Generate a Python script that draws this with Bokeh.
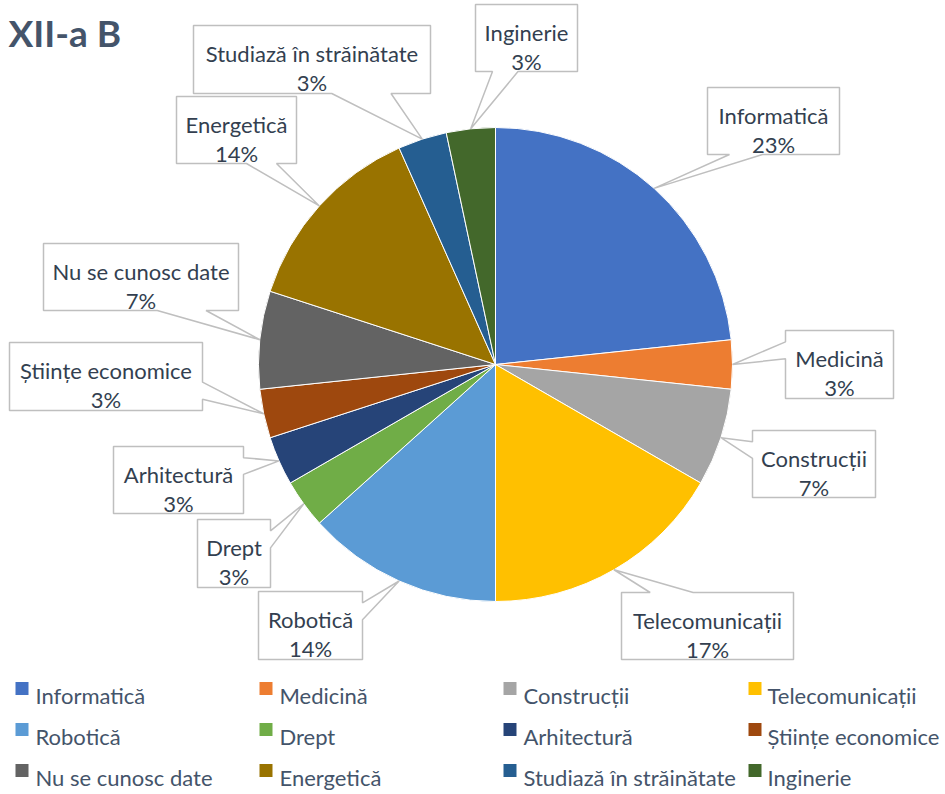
import math
from bokeh.plotting import figure
from bokeh.models import ColumnDataSource, Range1d
from bokeh.core.properties import value
from bokeh.embed import file_html
from bokeh.resources import INLINE

# ---------------- data ----------------
chart_title = "XII-a B"
categories = ["Informatică", "Medicină", "Construcții", "Telecomunicații",
              "Robotică", "Drept", "Arhitectură", "Științe economice",
              "Nu se cunosc date", "Energetică", "Studiază în străinătate", "Inginerie"]
counts = [7, 1, 2, 5, 4, 1, 1, 1, 2, 4, 1, 1]
pct_labels = ["23%", "3%", "7%", "17%", "14%", "3%", "3%", "3%", "7%", "14%", "3%", "3%"]

# ---------------- styles / layout ----------------
palette = ["#4472C4", "#ED7D31", "#A5A5A5", "#FFC000", "#5B9BD5", "#70AD47",
           "#264478", "#9E480E", "#636363", "#997300", "#255E91", "#43682B"]
FONT = "Lato"
LABEL_COLOR = "#333F50"
LEGEND_COLOR = "#44546A"
BOX_LINE = "#BFBFBF"

W, H = 945, 794
CX, CY, R = 495, 364, 237          # pie centre / radius (px, y down)

# callout boxes (left, top, right, bottom) in px
label_boxes = [
    (707, 87, 839, 154),    # Informatică
    (785, 330, 893, 398),   # Medicină
    (752, 430, 875, 497),   # Construcții
    (621, 592, 793, 659),   # Telecomunicații
    (258, 591, 362, 659),   # Robotică
    (197, 519, 270, 587),   # Drept
    (113, 446, 243, 513),   # Arhitectură
    (9, 342, 202, 410),     # Științe economice
    (43, 243, 238, 310),    # Nu se cunosc date
    (176, 96, 296, 163),    # Energetică
    (193, 25, 430, 93),     # Studiază în străinătate
    (475, 4, 577, 71),      # Inginerie
]

legend_sq_x = [21.5, 265.5, 509.5, 754.5]
legend_tx_x = [35, 279, 523, 767]
legend_rows = [695, 736, 777]

p = figure(width=W, height=H, output_backend="svg", toolbar_location=None,
           x_range=Range1d(0, W), y_range=Range1d(-H, 0),
           min_border=0, x_axis_location=None, y_axis_location=None)
p.grid.visible = False
p.outline_line_color = None
p.background_fill_color = "white"
p.border_fill_color = "white"

# ---------------- pie ----------------
total = float(sum(counts))
starts, ends, mids = [], [], []
cum = 0.0
for c in counts:
    a0 = cum / total * 2 * math.pi
    cum += c
    a1 = cum / total * 2 * math.pi
    starts.append(math.pi / 2 - a0)
    ends.append(math.pi / 2 - a1)
    mids.append((a0 + a1) / 2)

src = ColumnDataSource(dict(x=[CX] * len(counts), y=[-CY] * len(counts),
                            start=starts, end=ends, color=palette, cat=categories))
p.wedge(x="x", y="y", radius=R, start_angle="start", end_angle="end",
        direction="clock", fill_color="color", line_color="white",
        line_width=1, source=src)

# ---------------- callouts ----------------
def callout_path(box, tip):
    l, t, r, b = box
    w, h = r - l, b - t
    hc, vc = (l + r) / 2, (t + b) / 2
    tx, ty = tip
    dx, dy = tx - hc, ty - vc
    dq = dx * h / w
    dz = abs(dy) - abs(dq)
    if dz > 0:
        fx = (7 / 12, 10 / 12) if dx > 0 else (2 / 12, 5 / 12)
        x1, x2 = l + w * fx[0], l + w * fx[1]
        if dy < 0:  # top
            pts = [(l, t), (x1, t), (tx, ty), (x2, t), (r, t), (r, b), (l, b)]
        else:       # bottom
            pts = [(l, t), (r, t), (r, b), (x2, b), (tx, ty), (x1, b), (l, b)]
    else:
        fy = (7 / 12, 10 / 12) if dy > 0 else (2 / 12, 5 / 12)
        y1, y2 = t + h * fy[0], t + h * fy[1]
        if dx > 0:  # right
            pts = [(l, t), (r, t), (r, y1), (tx, ty), (r, y2), (r, b), (l, b)]
        else:       # left
            pts = [(l, t), (r, t), (r, b), (l, b), (l, y2), (tx, ty), (l, y1)]
    return [q[0] for q in pts], [-q[1] for q in pts]

xs, ys = [], []
l1x, l1y, l1t, l2y, l2t = [], [], [], [], []
for i, box in enumerate(label_boxes):
    tip = (CX + R * math.sin(mids[i]), CY - R * math.cos(mids[i]))
    px, py = callout_path(box, tip)
    xs.append(px)
    ys.append(py)
    l, t, r, b = box
    cx, cy = (l + r) / 2, (t + b) / 2
    l1x.append(cx)
    l1y.append(-(cy - 6))
    l1t.append(categories[i])
    l2y.append(-(cy + 23))
    l2t.append(pct_labels[i])

p.patches(xs=xs, ys=ys, fill_color="white", line_color=BOX_LINE, line_width=1.5)
p.text(x=l1x, y=l1y, text=l1t, text_font=value(FONT), text_font_size="22px",
       text_color=LABEL_COLOR, text_align="center", text_baseline="alphabetic")
p.text(x=l1x, y=l2y, text=l2t, text_font=value(FONT), text_font_size="22px",
       text_color=LABEL_COLOR, text_align="center", text_baseline="alphabetic")

# ---------------- title ----------------
p.text(x=[8], y=[-32], text=[chart_title], text_font=value(FONT),
       text_font_size="37px", text_font_style="bold", text_color="#44546A",
       text_align="left", text_baseline="alphabetic")

# ---------------- legend ----------------
lg_x, lg_y, lg_tx, lg_ty, lg_c, lg_t = [], [], [], [], [], []
for i, cat in enumerate(categories):
    row, col = divmod(i, 4)
    base = legend_rows[row]
    lg_x.append(legend_sq_x[col])
    lg_y.append(-(base - 7))
    lg_c.append(palette[i])
    lg_tx.append(legend_tx_x[col])
    lg_ty.append(-base)
    lg_t.append(cat)
p.scatter(x=lg_x, y=lg_y, marker="square", size=13, fill_color=lg_c, line_color=None)
p.text(x=lg_tx, y=lg_ty, text=lg_t, text_font=value(FONT), text_font_size="22px",
       text_color=LEGEND_COLOR, text_align="left", text_baseline="alphabetic")

open("out.html", "w").write(file_html(p, INLINE))
